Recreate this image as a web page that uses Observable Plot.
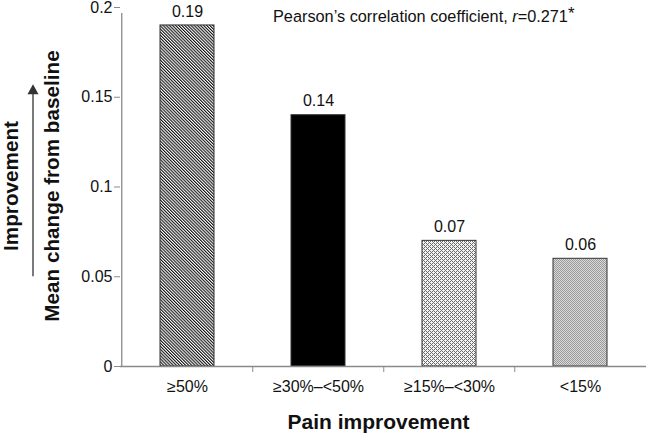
<!DOCTYPE html>
<html><head><meta charset="utf-8">
<script src="https://cdn.jsdelivr.net/npm/d3@7"></script>
<script src="https://cdn.jsdelivr.net/npm/@observablehq/plot@0.6"></script>
<style>body{margin:0;background:#fff} svg{display:block}</style>
</head><body><div id="chart"></div>
<script>
// ---- data ----
const categories = ["≥50%", "≥30%–<50%", "≥15%–<30%", "<15%"];
const values = [0.19, 0.14, 0.07, 0.06];
const valueLabels = ["0.19", "0.14", "0.07", "0.06"];
const fills = ["url(#hatch1)", "#000000", "url(#hatch3)", "url(#hatch4)"];
const yTicks = [0, 0.05, 0.1, 0.15, 0.2];
const yTickLabels = ["0", "0.05", "0.1", "0.15", "0.2"];
const xTitle = "Pain improvement";
const yTitle = "Mean change from baseline";
const yNote = "Improvement";
const arrowSpan = [0.05, 0.157];
const notePrefix = "Pearson’s correlation coefficient, ";
const noteVar = "r";
const noteValue = "=0.271";
const noteMark = "*";

const data = categories.map((c, i) => ({cat: c, value: values[i], label: valueLabels[i], fill: fills[i]}));

// ---- layout ----
const W = 648, H = 434, ML = 120, MR = 2, MT = 7, MB = 68;
const pInner = 0.59, pOuter = pInner / 2;
const step = (W - ML - MR) / categories.length;
const FONT = "'Liberation Sans', Arial, Helvetica, sans-serif";
const AXIS = "#8a8a8a";

function defsMark() {
  const defs = d3.create("svg:defs");
  const p1 = defs.append("pattern").attr("id", "hatch1").attr("patternUnits", "userSpaceOnUse")
    .attr("width", 2.2).attr("height", 2.2).attr("patternTransform", "rotate(-45)");
  p1.append("rect").attr("width", 2.2).attr("height", 2.2).attr("fill", "#fff");
  p1.append("rect").attr("width", 1.1).attr("height", 2.2).attr("fill", "#111");
  const p3 = defs.append("pattern").attr("id", "hatch3").attr("patternUnits", "userSpaceOnUse")
    .attr("width", 4).attr("height", 4);
  p3.append("rect").attr("width", 4).attr("height", 4).attr("fill", "#f4f4f4");
  [[0,3],[1,2],[2,1],[3,0],[0,1],[2,3]].forEach(([x,y]) =>
    p3.append("rect").attr("x", x).attr("y", y).attr("width", 1).attr("height", 1).attr("fill", "#6a6a6a"));
  const p4 = defs.append("pattern").attr("id", "hatch4").attr("patternUnits", "userSpaceOnUse")
    .attr("width", 2).attr("height", 2);
  p4.append("rect").attr("width", 2).attr("height", 2).attr("fill", "#dadada");
  p4.append("rect").attr("x", 0).attr("y", 0).attr("width", 1).attr("height", 1).attr("fill", "#9a9a9a");
  p4.append("rect").attr("x", 1).attr("y", 1).attr("width", 1).attr("height", 1).attr("fill", "#9a9a9a");
  return defs.node();
}

function arrowMark(index, scales, values, dims) {
  const g = d3.create("svg:g");
  const x = dims.marginLeft - 87;
  const y0 = scales.y(arrowSpan[0]), y1 = scales.y(arrowSpan[1]);
  g.append("line").attr("x1", x).attr("x2", x).attr("y1", y0).attr("y2", y1 + 8)
    .attr("stroke", "#333").attr("stroke-width", 1.3);
  g.append("path").attr("d", `M${x},${y1}L${x - 5.5},${y1 + 10}L${x + 5.5},${y1 + 10}Z`).attr("fill", "#333");
  return g.node();
}

function noteMarkFn(index, scales, values, dims) {
  const t = d3.create("svg:text")
    .attr("x", dims.marginLeft + 153).attr("y", dims.marginTop + 15)
    .attr("text-anchor", "start")
    .attr("font-family", FONT).attr("font-size", 16.3).attr("fill", "#111");
  t.append("tspan").text(notePrefix);
  t.append("tspan").attr("font-style", "italic").text(noteVar);
  t.append("tspan").text(noteValue);
  t.append("tspan").attr("dy", -3).attr("font-size", 17).text(noteMark);
  return t.node();
}

const plot = Plot.plot({
  width: W, height: H,
  marginLeft: ML, marginRight: MR, marginTop: MT, marginBottom: MB,
  style: {fontFamily: FONT, fontSize: "16px", color: "#111", background: "#fff"},
  x: {domain: categories, paddingInner: pInner, paddingOuter: pOuter, axis: null},
  y: {domain: [0, 0.2], axis: null},
  color: {type: "identity"},
  marks: [
    defsMark,
    Plot.barY(data, {x: "cat", y: "value", fill: "fill", stroke: "#333", strokeWidth: 1}),
    Plot.ruleY([0], {stroke: AXIS, strokeWidth: 1.3}),
    Plot.ruleX([categories[0]], {y1: 0, y2: 0.2, dx: -step / 2, stroke: AXIS, strokeWidth: 1.3, insetBottom: -6}),
    Plot.axisY({ticks: yTicks, tickFormat: d => yTickLabels[yTicks.indexOf(d)], tickSize: 6, tickPadding: 2,
      stroke: AXIS, fill: "#111", label: null, fontSize: 16}),
    Plot.axisX({ticks: categories.slice(1), tickSize: 6, tickFormat: () => "", dx: -step / 2, stroke: AXIS, label: null}),
    Plot.axisX({tickSize: 0, tickPadding: 14, fill: "#111", label: null, fontSize: 16}),
    Plot.text(data, {x: "cat", y: "value", text: "label", dy: -14, fill: "#111", fontSize: 16}),
    Plot.text([xTitle], {frameAnchor: "bottom", textAnchor: "middle", lineAnchor: "middle", dy: 56, dx: -5, fontWeight: "bold", fontSize: 21, fill: "#111"}),
    Plot.text([yTitle], {frameAnchor: "left", textAnchor: "middle", lineAnchor: "middle", rotate: -90, dx: -68, dy: -1, fontWeight: "bold", fontSize: 20.7, fill: "#111"}),
    Plot.text([yNote], {frameAnchor: "left", textAnchor: "middle", lineAnchor: "middle", rotate: -90, dx: -109, dy: -1, fontWeight: "bold", fontSize: 20.7, fill: "#111"}),
    arrowMark,
    noteMarkFn
  ]
});
document.getElementById("chart").appendChild(plot);
</script>
</body></html>
